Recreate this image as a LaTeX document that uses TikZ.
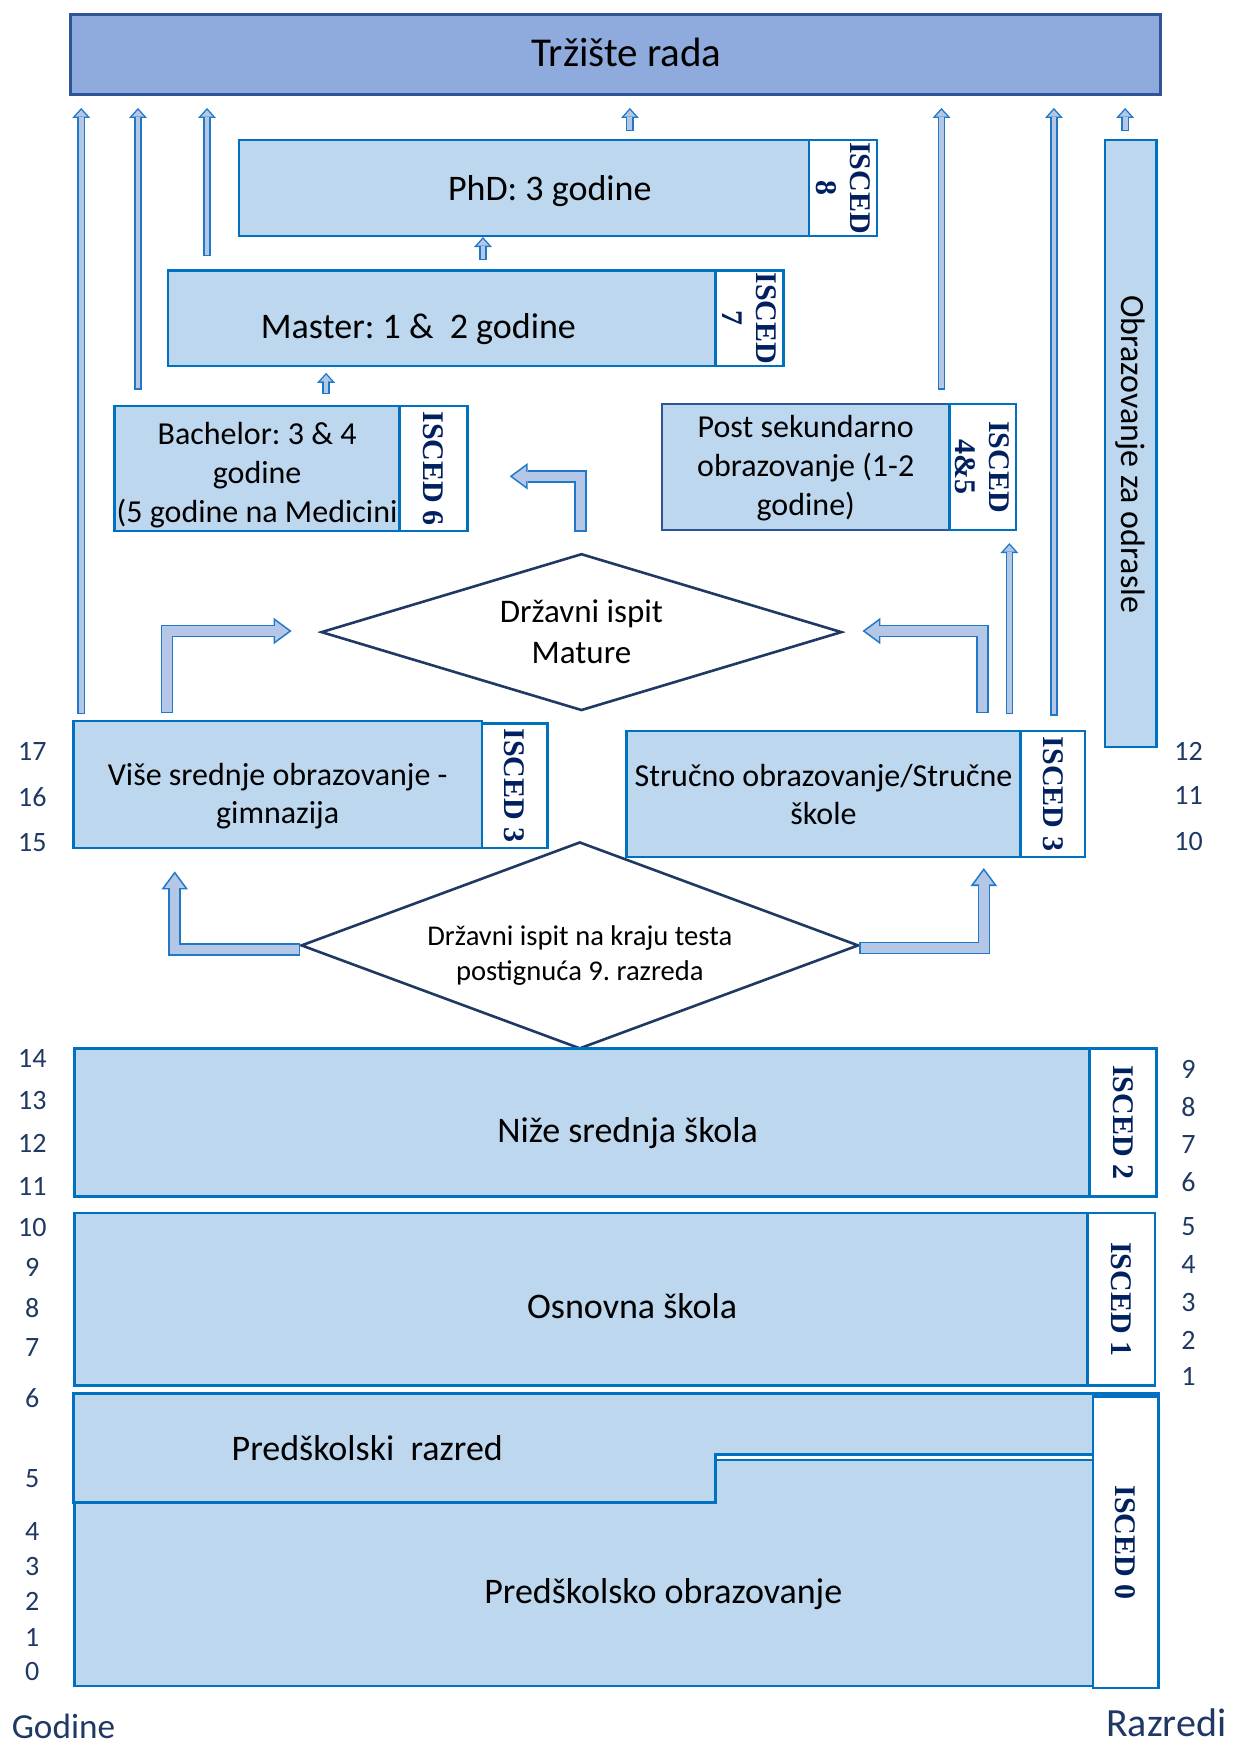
\documentclass[tikz,border=0pt]{standalone}
\usepackage{fontspec}
\setmainfont{Carlito}
\newfontfamily\iscfont{Liberation Serif}
\usetikzlibrary{arrows.meta, shapes.geometric}
\definecolor{boxfill}{HTML}{BDD7EE}
\definecolor{boxline}{HTML}{0070C0}
\definecolor{topfill}{HTML}{8FAADC}
\definecolor{topline}{HTML}{2F5597}
\definecolor{arrfill}{HTML}{B4C7E7}
\definecolor{arrline}{HTML}{1F78C8}
\definecolor{navy}{HTML}{1F3864}
\definecolor{iscnavy}{HTML}{002060}
\def\upx{0.5564pt}
\newcommand{\fs}[2]{\fontsize{#1}{#2}\selectfont}
% spusti tekst bez promjene velicine okvira
\newcommand{\down}[2]{\raisebox{-#1}[\height][\depth]{\begin{tabular}{@{}c@{}}#2\end{tabular}}}
\frenchspacing

\begin{document}
\begin{tikzpicture}[x=\upx, y=-\upx,
  box/.style={draw=boxline, fill=boxfill, line width=1.2pt, inner sep=0pt, outer sep=0pt, align=center},
  iscbox/.style={draw=boxline, fill=white, line width=1.2pt, inner sep=0pt, outer sep=0pt},
  isclabel/.style={rotate=-90, align=center, text=iscnavy, font=\iscfont\bfseries\fs{15}{17}},
  exam/.style={diamond, draw=navy, line width=1.3pt, fill=white, inner sep=0pt, outer sep=0pt, align=center},
  preshape/.style={draw=boxline, fill=boxfill, line width=1.2pt},
  yearnum/.style={text=navy, font=\fs{14}{16}},
  thinarr/.style={draw=arrfill, line width=2.4pt, shorten >=1.05pt, shorten <=0.7pt,
    -{Triangle[width=5.85pt, length=3.25pt, line width=0pt]},
    preaction={draw=arrline, line width=3.8pt, shorten >=0pt, shorten <=0pt,
      -{Triangle[width=9pt, length=5pt, line width=0pt]}}},
  bentarr/.style={draw=arrfill, line width=4.7pt, shorten >=1.35pt, shorten <=0.8pt,
    -{Triangle[width=10.1pt, length=6.85pt, line width=0pt]},
    preaction={draw=arrline, line width=6.3pt, shorten >=0pt, shorten <=0pt,
      -{Triangle[width=13.3pt, length=9pt, line width=0pt]}}}]
  \useasboundingbox (0,0) rectangle (1109,1568);

  % Tržište rada
  \node[box, fill=topfill, draw=topline, line width=1.5pt, minimum width=980*\upx, minimum height=72*\upx, font=\fs{20.5}{24}] (trziste) at (553,49) {\hspace*{11pt}\raisebox{1pt}[\height][\depth]{Tržište rada}};

  % Visoko obrazovanje
  \node[box, minimum width=512*\upx, minimum height=86*\upx, font=\fs{18}{22}] (phd) at (471,169) {\hspace*{25.6pt}\down{1.7pt}{PhD: 3 godine}};
  \node[iscbox, minimum width=61*\upx, minimum height=86*\upx] (phdisc) at (757.5,169) {};
  \node[isclabel] (phdisct) at (phdisc) {ISCED\\8};

  \node[box, minimum width=492*\upx, minimum height=86*\upx, font=\fs{18}{22}] (master) at (397,286) {\down{5.6pt}{Master: 1 \&\ \ 2 godine}\hspace*{23.4pt}};
  \node[iscbox, minimum width=61*\upx, minimum height=86*\upx] (masterisc) at (673.5,286) {};
  \node[isclabel] (masterisct) at (masterisc) {ISCED\\7};

  \node[box, minimum width=256*\upx, minimum height=112*\upx, font=\fs{16}{19.5}] (bachelor) at (231,421) {\down{3.6pt}{Bachelor: 3 \& 4\\godine\\(5 godine na Medicini}};
  \node[iscbox, minimum width=61*\upx, minimum height=112*\upx] (bachelorisc) at (389.5,421) {};
  \node[isclabel] (bachelorisct) at (bachelorisc) {ISCED 6};

  \node[box, draw=topline, minimum width=258*\upx, minimum height=113*\upx, font=\fs{16}{19.5}] (postsek) at (724,419.5) {\down{1pt}{Post sekundarno\\obrazovanje (1-2\\godine)}};
  \node[iscbox, minimum width=60*\upx, minimum height=113*\upx] (postsekisc) at (883,419.5) {};
  \node[isclabel] (postsekisct) at (postsekisc) {ISCED\\4\&5};

  \node[box, rotate=-90, minimum width=545*\upx, minimum height=46*\upx, font=\fs{17}{20}] (odrasle) at (1016,398.5) {\hspace*{10.6pt}Obrazovanje za odrasle};

  % Matura
  \node[exam, minimum width=467*\upx, minimum height=140*\upx, aspect=3.3, font=\fs{16.5}{20.5}] (matura) at (522.5,568) {Državni ispit\\Mature};

  % Srednje obrazovanje
  \node[box, minimum width=367*\upx, minimum height=114*\upx, font=\fs{16}{19}] (vise) at (249.5,705) {\down{6.1pt}{Više srednje obrazovanje -\\gimnazija}};
  \node[iscbox, minimum width=59*\upx, minimum height=112*\upx] (viseisc) at (462.5,706) {};
  \node[isclabel] (viseisct) at (viseisc) {ISCED 3};

  \node[box, minimum width=354*\upx, minimum height=113*\upx, font=\fs{16}{19}] (strucno) at (740,713.5) {Stručno obrazovanje/Stručne\\škole};
  \node[iscbox, minimum width=58*\upx, minimum height=113*\upx] (strucnoisc) at (946,713.5) {};
  \node[isclabel] (strucnoisct) at (strucnoisc) {ISCED 3};

  % Ispit nakon 9. razreda
  \node[exam, minimum width=500*\upx, minimum height=185*\upx, aspect=2.7, inner sep=-4pt, font=\fs{14.3}{17.8}] (test9) at (521,849.5) {\down{5.3pt}{Državni ispit na kraju testa\\postignuća 9. razreda}};

  % Osnovno obrazovanje
  \node[box, minimum width=912*\upx, minimum height=133*\upx, font=\fs{18}{22}] (nize) at (523,1008.5) {\hspace*{45.6pt}\down{5.6pt}{Niže srednja škola}};
  \node[iscbox, minimum width=60*\upx, minimum height=133*\upx] (nizeisc) at (1009,1008.5) {};
  \node[isclabel] (nizeisct) at (nizeisc) {ISCED 2};

  \node[box, minimum width=910*\upx, minimum height=155*\upx, font=\fs{18}{22}] (osnovna) at (522,1167.5) {\hspace*{51.2pt}\down{5pt}{Osnovna škola}};
  \node[iscbox, minimum width=61*\upx, minimum height=155*\upx] (osnovnaisc) at (1007.5,1167.5) {};
  \node[isclabel] (osnovnaisct) at (osnovnaisc) {ISCED 1};

  % Predškolsko
  \draw[preshape] (66,1252) -- (1041,1252) -- (1041,1307) -- (643,1307) -- (643,1350) -- (66,1350) -- cycle;
  \draw[preshape] (67,1350) -- (643,1350) -- (643,1312) -- (1041,1312) -- (1041,1515) -- (67,1515) -- cycle;
  \node[font=\fs{18}{22}] (predraz) at (330,1301) {Predškolski\ \ razred};
  \node[font=\fs{18}{22}] (predobr) at (596,1432) {Predškolsko obrazovanje};
  \node[iscbox, minimum width=59*\upx, minimum height=262*\upx] (predisc) at (1011.5,1386) {};
  \node[isclabel] (predisct) at (predisc) {ISCED 0};

  % Godine i razredi
  \foreach \n/\yy in {17/675, 16/716, 15/757, 14/951, 13/989, 12/1027, 11/1066, 10/1103, 9/1139, 8/1175, 7/1211, 6/1256, 5/1329, 4/1376, 3/1408, 2/1439, 1/1471, 0/1502}
    \node[yearnum] (god\n) at (29,\yy) {\n};
  \foreach \n/\yy in {12/675, 11/715, 10/756, 9/961, 8/995, 7/1028, 6/1062, 5/1102, 4/1136, 3/1170, 2/1204, 1/1237}
    \node[yearnum] (raz\n) at (1068,\yy) {\n};
  \node[text=navy, font=\fs{17.6}{20}] (godine) at (57,1551) {Godine};
  \node[text=navy, font=\fs{20}{23}] (razredi) at (1048,1548) {Razredi};

  % Strelice prema tržištu rada
  \draw[thinarr] ([shift={(7,-6)}]vise.north west) -- ([shift={(10,12)}]trziste.south west);
  \draw[thinarr] ([shift={(21,-15)}]bachelor.north west) -- ([shift={(61,12)}]trziste.south west);
  \draw[thinarr] ([shift={(35,-13)}]master.north west) -- ([shift={(123,12)}]trziste.south west);
  \draw[thinarr] ([shift={(351,-8)}]phd.north west) -- ([shift={(503,12)}]trziste.south west);
  \draw[thinarr] ([shift={(251,-13)}]postsek.north west) -- ([shift={(783,12)}]trziste.south west);
  \draw[thinarr] ([shift={(384,-14)}]strucno.north west) -- ([shift={(884,12)}]trziste.south west);
  \draw[thinarr] ([shift={(-5,-8)}]odrasle.west) -- ([shift={(948,12)}]trziste.south west);
  \draw[thinarr] ([shift={(283,-9)}]master.north west) -- ([shift={(219,1)}]phd.south west);
  \draw[thinarr] ([shift={(190,-11)}]bachelor.north west) -- ([shift={(142,6)}]master.south west);
  \draw[thinarr] ([shift={(344,-15)}]strucno.north west) -- ([shift={(312,12)}]postsek.south west);

  % Savijene strelice
  \draw[bentarr] ([shift={(84,-7)}]vise.north west) |- ([shift={(-27,-1)}]matura.west);
  \draw[bentarr] ([shift={(320,-16)}]strucno.north west) |- ([shift={(19,-1)}]matura.east);
  \draw[bentarr] ([shift={(-1,-20)}]matura.north) |- ([shift={(38,7)}]bachelorisc.east);
  \draw[bentarr] ([shift={(-1,3.5)}]test9.west) -| ([shift={(91,21)}]vise.south west);
  \draw[bentarr] ([shift={(1,2.5)}]test9.east) -| ([shift={(321,10)}]strucno.south west);
\end{tikzpicture}
\end{document}
